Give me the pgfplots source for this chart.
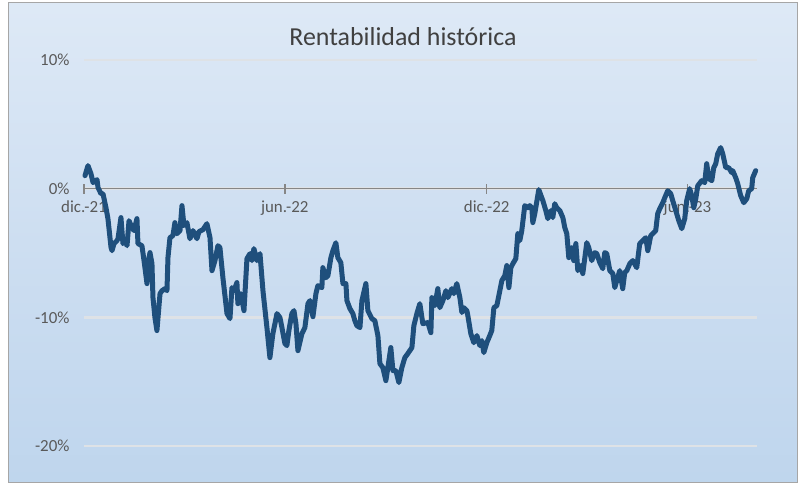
\documentclass[border=0pt]{standalone}
\usepackage{pgfplots}
\pgfplotsset{compat=1.18}
\usepackage{fontspec}
\setmainfont{Carlito}
\definecolor{bgtop}{RGB}{238,244,251}
\definecolor{bgmid}{RGB}{205,222,241}
\definecolor{bgbot}{RGB}{180,207,234}
\definecolor{bgbot2}{RGB}{198,219,240}
\definecolor{serie}{RGB}{31,79,124}
\definecolor{axisgray}{RGB}{134,134,134}
\definecolor{gridc}{RGB}{222,226,230}
\definecolor{txt}{RGB}{89,89,89}
\definecolor{ttl}{RGB}{64,64,64}
\pgfdeclareverticalshading{chartbg}{100bp}{color(0bp)=(bgbot2); color(6bp)=(bgbot); color(50bp)=(bgmid); color(100bp)=(bgtop)}
\begin{document}
\begin{tikzpicture}[x=1bp,y=1bp]
\fill[white] (0,0) rectangle (804,486);
\shade[shading=chartbg] (8,3) rectangle (797,483);
\draw[color={rgb,255:red,166;green,166;blue,166}, line width=1bp] (8,3) rectangle (797,483);
\node[font=\fontsize{26}{30}\selectfont, text=ttl] at (403,449) {Rentabilidad histórica};
\begin{axis}[
  at={(84bp,40bp)}, anchor=south west,
  scale only axis, width=673bp, height=386bp,
  xmin=0, xmax=610, ymin=-20, ymax=10,
  axis x line=middle, axis y line=left,
  hide obscured x ticks=false, hide obscured y ticks=false,
  x axis line style={-, draw=axisgray, line width=1.6bp},
  y axis line style={draw=none},
  xtick={0,182,365,547},
  xticklabels={dic.-21,jun.-22,dic.-22,jun.-23},
  xtick align=center, major tick length=10bp,
  xtick style={draw=axisgray, line width=1.4bp},
  ytick={-20,-10,0,10},
  yticklabels={-20\%,-10\%,0\%,10\%},
  ytick style={draw=none},
  ymajorgrids, grid style={draw=gridc, line width=2.5bp},
  tick label style={font=\fontsize{17}{20}\selectfont, text=txt},
  xticklabel style={anchor=north, yshift=-4bp},
  yticklabel style={anchor=east, xshift=-6bp},
  clip=false,
]
\addplot[serie, line width=5bp, line join=round, line cap=round] coordinates {
(0.9,1.01)(3.6,1.79)(6.3,1.17)(8.2,0.47)(11.8,0.70)(12.7,0.08)(15.4,-0.39)(17.2,-0.39)
(19.9,-1.48)(21.7,-2.33)(24.5,-4.58)(25.4,-4.82)(27.2,-4.27)(29.9,-4.04)(30.8,-3.89)
(33.5,-2.25)(35.3,-4.27)(37.1,-4.04)(39.0,-4.43)(40.8,-2.49)(43.5,-3.03)(45.3,-3.26)
(48.0,-2.33)(48.9,-4.27)(52.5,-4.43)(54.4,-5.59)(57.1,-7.38)(58.0,-5.83)(59.8,-4.97)
(61.6,-5.83)(62.5,-8.47)(64.3,-10.02)(66.1,-11.03)(68.9,-8.16)(70.7,-7.93)(73.4,-7.77)
(75.2,-7.93)(76.1,-5.36)(77.9,-3.81)(80.6,-3.65)(82.4,-2.64)(84.3,-3.50)(87.0,-3.26)
(88.8,-1.32)(90.6,-2.87)(93.3,-2.64)(96.0,-3.89)(98.8,-3.26)(102.4,-3.89)(104.2,-3.34)
(107.8,-3.19)(111.4,-2.72)(114.2,-3.81)(116.0,-6.37)(118.7,-5.59)(121.4,-4.43)(123.2,-4.58)
(125.9,-6.92)(129.6,-9.71)(132.3,-10.10)(134.1,-7.69)(135.9,-7.93)(138.6,-7.30)(139.5,-8.94)
(142.2,-8.16)(145.0,-9.48)(147.7,-5.44)(150.4,-5.05)(152.2,-5.59)(154.0,-4.66)(156.7,-5.59)
(159.5,-5.05)(162.2,-7.93)(165.8,-10.80)(168.5,-13.13)(171.2,-11.27)(174.9,-9.71)(177.6,-10.02)
(179.4,-10.80)(182.1,-12.04)(183.9,-12.20)(185.7,-11.03)(188.4,-9.71)(190.3,-9.48)(192.1,-10.49)
(193.9,-12.59)(197.5,-11.27)(200.2,-10.80)(203.0,-8.94)(204.8,-8.70)(207.5,-9.95)(210.2,-8.16)
(212.0,-7.54)(215.6,-7.69)(216.5,-6.14)(219.3,-6.92)(221.1,-6.76)(223.8,-5.36)(225.6,-4.82)
(228.3,-4.20)(230.1,-5.36)(232.8,-5.75)(234.7,-7.38)(237.4,-7.38)(238.3,-8.70)(241.0,-9.32)
(243.7,-9.71)(245.5,-10.26)(247.3,-10.64)(250.1,-10.80)(251.9,-8.70)(255.5,-7.38)(257.3,-9.48)
(260.9,-10.10)(263.6,-10.26)(266.4,-11.42)(268.2,-13.60)(270.9,-13.91)(273.6,-14.92)(275.4,-13.91)
(278.1,-12.35)(280.0,-14.14)(282.7,-14.14)(285.4,-15.07)(288.1,-13.91)(290.8,-13.13)(293.5,-12.82)
(297.2,-12.35)(299.0,-10.64)(301.7,-9.71)(304.4,-8.94)(307.1,-10.49)(311.7,-10.41)(314.4,-11.19)
(315.3,-8.47)(318.0,-9.09)(320.7,-7.77)(322.5,-9.25)(325.3,-8.70)(328.0,-7.93)(329.8,-8.47)
(333.4,-7.77)(335.2,-8.16)(337.9,-7.38)(340.7,-8.47)(342.5,-9.63)(344.3,-9.25)(347.0,-9.48)
(347.9,-9.87)(350.6,-11.27)(353.3,-11.97)(356.1,-11.42)(358.8,-12.20)(360.6,-11.81)(362.4,-12.74)
(365.1,-11.97)(367.8,-11.42)(369.6,-11.03)(371.5,-9.25)(374.2,-9.09)(376.9,-7.93)(378.7,-7.15)
(381.4,-6.76)(383.2,-5.98)(385.1,-7.69)(386.9,-6.14)(388.7,-5.83)(391.4,-5.44)(393.2,-3.50)
(395.0,-4.04)(396.8,-3.26)(399.5,-1.32)(402.3,-1.48)(404.1,-1.32)(405.9,-1.48)(406.8,-2.64)
(408.6,-1.94)(412.2,-0.08)(415.9,-0.93)(418.6,-1.71)(420.4,-2.33)(423.1,-1.71)(424.9,-2.25)
(426.7,-1.17)(428.5,-1.48)(431.3,-1.71)(434.0,-2.25)(435.8,-3.03)(437.6,-3.50)(439.4,-5.36)
(442.1,-4.58)(443.9,-5.59)(445.8,-4.27)(447.6,-6.37)(450.3,-5.98)(452.1,-6.60)(455.7,-4.20)
(457.5,-4.58)(460.2,-5.59)(463.0,-4.97)(464.8,-5.05)(467.5,-5.75)(470.2,-6.22)(472.0,-4.97)
(473.8,-5.05)(476.6,-6.37)(479.3,-6.60)(481.1,-7.69)(482.9,-7.15)(485.6,-6.37)(488.3,-7.77)
(490.1,-6.53)(492.0,-6.37)(494.7,-5.83)(497.4,-5.59)(501.0,-6.14)(503.7,-4.27)(506.5,-4.04)
(509.2,-3.81)(511.0,-4.82)(513.7,-3.65)(515.5,-3.50)(518.2,-3.26)(520.0,-1.94)(521.9,-1.55)
(524.6,-1.09)(526.4,-0.70)(529.1,-0.16)(531.8,-0.39)(533.6,-0.93)(536.4,-1.71)(539.1,-2.49)
(541.8,-3.11)(544.5,-2.33)(546.3,-0.93)(549.0,0.00)(550.8,-0.54)(552.7,-1.48)(554.5,-0.78)
(556.3,0.23)(559.9,0.62)(562.6,0.47)(564.4,1.94)(566.3,0.78)(569.0,0.62)(570.8,1.63)
(572.6,1.94)(574.4,2.72)(577.1,3.19)(578.9,2.72)(581.7,1.63)(584.4,1.63)(587.1,1.24)
(588.0,1.40)(590.7,0.85)(592.5,0.39)(595.2,-0.54)(598.0,-1.09)(600.7,-0.78)(602.5,-0.16)
(605.2,0.00)(606.1,0.85)(608.8,1.40)
};
\end{axis}
\pgfresetboundingbox
\useasboundingbox (0,0) rectangle (804,486);
\end{tikzpicture}
\end{document}
